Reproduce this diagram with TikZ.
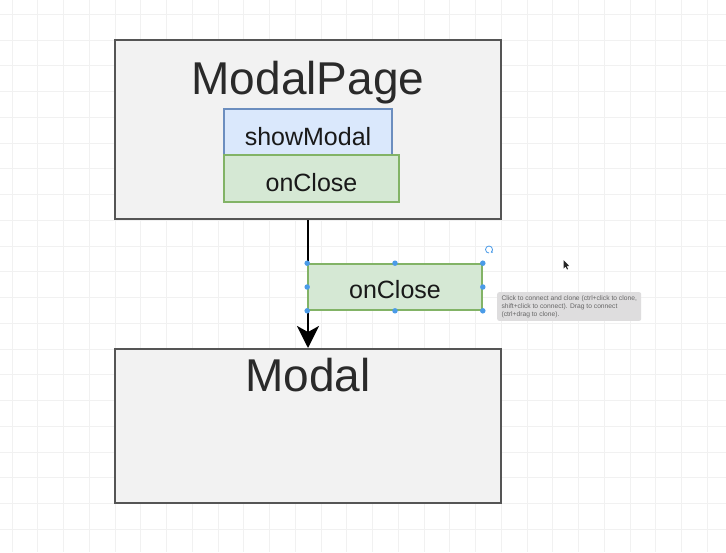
\documentclass[tikz,border=0pt]{standalone}
\usepackage{fontspec}
\setmainfont{Liberation Sans}
\usetikzlibrary{arrows.meta,positioning}
\definecolor{boxfill}{HTML}{F2F2F2}
\definecolor{boxline}{HTML}{555555}
\definecolor{bluefill}{HTML}{DAE8FC}
\definecolor{blueline}{HTML}{6C8EBF}
\definecolor{greenfill}{HTML}{D5E8D4}
\definecolor{greenline}{HTML}{82B366}
\definecolor{handle}{HTML}{4A9BE8}
\definecolor{gridcol}{HTML}{F1F1F1}
\definecolor{tipfill}{HTML}{DEDDDE}
\definecolor{textcol}{HTML}{2A2A2A}

\begin{document}
\begin{tikzpicture}[x=1pt, y=-1pt,
    gridline/.style={draw=gridcol, line width=0.8pt},
    compbox/.style={draw=boxline, fill=boxfill, line width=2pt, rectangle, inner sep=0pt},
    propblue/.style={draw=blueline, fill=bluefill, line width=1.6pt, rectangle, inner sep=0pt},
    propgreen/.style={draw=greenline, fill=greenfill, line width=1.6pt, rectangle, inner sep=0pt},
    bigtitle/.style={anchor=base, text=textcol, font=\fontsize{46}{50}\selectfont},
    proptext/.style={anchor=base, text=black!90, font=\fontsize{25}{28}\selectfont},
    dot/.style={circle, fill=handle, inner sep=0pt, minimum size=5.5pt}]
    \useasboundingbox (0,0) rectangle (726,552);
    \fill[white] (0,0) rectangle (726,552);
    % background grid
    \foreach \i in {0,...,28}
        \draw[gridline] ({12+\i*25.75},0) -- ++(0,552);
    \foreach \j in {0,...,21}
        \draw[gridline] (0,{14.25+\j*25.75}) -- ++(726,0);

    % ModalPage
    \node[compbox, minimum width=386pt, minimum height=179pt] (page) at (308,129.5) {};
    \node[bigtitle] (pagetitle) at (308,94) {ModalPage};
    \node[propblue, minimum width=168pt, minimum height=47pt] (show) at (308,132.5) {};
    \node[proptext] (showtext) at (show.center |- 0,145) {showModal};
    \node[propgreen, minimum width=175pt, minimum height=47pt] (close) at (311.5,178.5) {};
    \node[proptext] (closetext) at (close.center |- 0,191) {onClose};

    % Modal
    \node[compbox, minimum width=386pt, minimum height=154pt] (modal) at (308,426) {};
    \node[bigtitle] (modaltitle) at (308,391) {Modal};

    % prop passed down
    \draw[line width=2.5pt, -{Stealth[length=22pt, width=22pt, inset=6pt]}] (page.south) -- (modal.north);
    \node[propgreen, minimum width=174pt, minimum height=46pt] (pass) at (395,287) {};
    \node[proptext] (passtext) at (pass.center |- 0,298.5) {onClose};

    % selection handles
    \foreach \a in {north west, north, north east, west, east, south west, south, south east}
        \node[dot] at (pass.\a) {};
    \draw[handle, line width=0.8pt, ->, >={Stealth[length=2pt,width=2.5pt]}] (489,253) arc[start angle=90, end angle=420, radius=3.5];

    % hint
    \node[fill=tipfill, rounded corners=2pt, anchor=north west, minimum width=144pt, minimum height=28pt,
        align=left, inner sep=3pt, text=black!60, font=\fontsize{6.7}{8.2}\selectfont] (hint) at (497,292)
        {Click to connect and clone (ctrl+click to clone,\\shift+click to connect). Drag to connect\\(ctrl+drag to clone).};

    % pointer
    \fill[black!85] (563.5,260) -- (563.5,268.5) -- (565.5,266.5) -- (567,269.5) -- (568,269) -- (566.6,266) -- (569.2,266) -- cycle;
\end{tikzpicture}
\end{document}
